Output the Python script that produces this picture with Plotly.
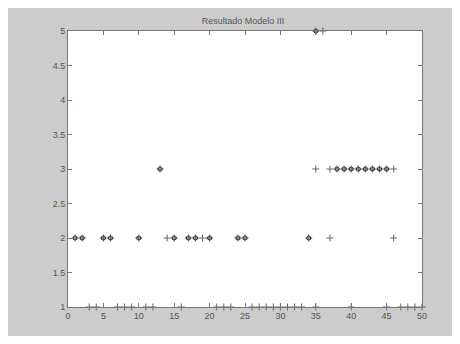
import plotly.graph_objects as go

# Points marked with "+" (class per observation index)
plus_x_c1 = [3, 4, 7, 8, 9, 11, 12, 16, 21, 22, 23, 26, 27, 28, 29, 30, 31, 32, 33, 35, 40, 45, 47, 48, 49, 50]
plus_x_c2 = [1, 2, 5, 6, 10, 14, 15, 17, 18, 19, 20, 24, 25, 34, 37, 46]
plus_x_c3 = [13, 35, 37, 38, 39, 40, 41, 42, 43, 44, 45, 46]
plus_x_c5 = [35, 36]

# Points shown as dark dots (coinciding markers)
dot_x_c2 = [1, 2, 5, 6, 10, 15, 17, 18, 20, 24, 25, 34]
dot_x_c3 = [13, 38, 39, 40, 41, 42, 43, 44, 45]
dot_x_c5 = [35]

x_ticks = [0, 5, 10, 15, 20, 25, 30, 35, 40, 45, 50]
y_ticks = [1, 1.5, 2, 2.5, 3, 3.5, 4, 4.5, 5]
y_tick_text = ["1", "1.5", "2", "2.5", "3", "3.5", "4", "4.5", "5"]

plus_x = plus_x_c1 + plus_x_c2 + plus_x_c3 + plus_x_c5
plus_y = [1] * len(plus_x_c1) + [2] * len(plus_x_c2) + [3] * len(plus_x_c3) + [5] * len(plus_x_c5)
dot_x = dot_x_c2 + dot_x_c3 + dot_x_c5
dot_y = [2] * len(dot_x_c2) + [3] * len(dot_x_c3) + [5] * len(dot_x_c5)

fig = go.Figure()
fig.add_trace(go.Scatter(
    x=plus_x, y=plus_y, mode="markers", cliponaxis=False,
    marker=dict(symbol="cross-thin", size=5, color="#666666",
                line=dict(width=1, color="#666666")),
    showlegend=False,
))
fig.add_trace(go.Scatter(
    x=dot_x, y=dot_y, mode="markers", cliponaxis=False,
    marker=dict(symbol="circle-open", size=4, color="#3a3a3a",
                line=dict(width=1.2, color="#3a3a3a")),
    showlegend=False,
))

# Figure is placed by the page with an 8px body margin
W, H = 444, 328
L, R, T, B = 60, 30, 23, 29

axis_common = dict(
    showgrid=False, zeroline=False, showline=True, linecolor="#777777", linewidth=1,
    mirror="ticks", ticks="inside", ticklen=4, tickcolor="#777777",
    tickfont=dict(family="Liberation Sans, Arial", size=9, color="#555555"),
)
fig.update_xaxes(range=[0, 50], tickvals=x_ticks, ticktext=[str(v) for v in x_ticks], **axis_common)
fig.update_yaxes(range=[1, 5], tickvals=y_ticks, ticktext=y_tick_text, **axis_common)

fig.update_layout(
    width=W, height=H,
    margin=dict(l=L, r=R, t=T, b=B),
    paper_bgcolor="#cccccc", plot_bgcolor="white",
    title=dict(text="Resultado Modelo III", x=(235 - L) / (W - L - R), xref="paper", xanchor="center",
               y=1 - 13 / H, yanchor="middle",
               font=dict(family="Liberation Sans, Arial", size=9, color="#555555")),
)

fig.write_html("out.html")
